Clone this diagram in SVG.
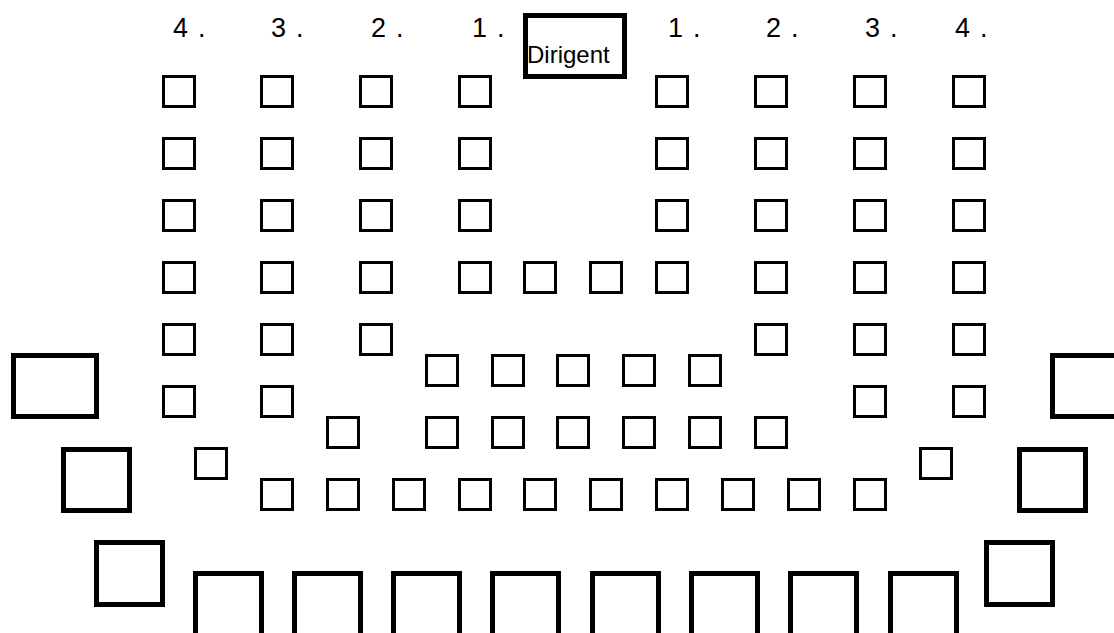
<svg xmlns="http://www.w3.org/2000/svg" width="1114" height="633" viewBox="0 0 1114 633">
<style>
.s{fill:none;stroke:#000;stroke-width:3}
.b{fill:none;stroke:#000;stroke-width:5}
.u{fill:none;stroke:#000;stroke-width:5;stroke-linecap:butt}
.n{font-family:"Liberation Sans",Arial,sans-serif;font-size:27px;fill:#000;letter-spacing:1.3px}
.d{font-family:"Liberation Sans",Arial,sans-serif;font-size:24px;fill:#000}
</style>
<rect width="1114" height="633" fill="#fff"/>
<g id="labels">
<text class="n" x="173" y="37">4 .</text>
<text class="n" x="271" y="37">3 .</text>
<text class="n" x="371" y="37">2 .</text>
<text class="n" x="472" y="37">1 .</text>
<text class="n" x="668" y="37">1 .</text>
<text class="n" x="766" y="37">2 .</text>
<text class="n" x="865" y="37">3 .</text>
<text class="n" x="955" y="37">4 .</text>
</g>
<g id="dirigent"><rect class="b" x="525.5" y="15.5" width="99" height="61"/><text class="d" x="527" y="63">Dirigent</text></g>
<g id="seats-l4"><rect class="s" x="163.5" y="76.5" width="31" height="30"/><rect class="s" x="163.5" y="138.5" width="31" height="30"/><rect class="s" x="163.5" y="200.5" width="31" height="30"/><rect class="s" x="163.5" y="262.5" width="31" height="30"/><rect class="s" x="163.5" y="324.5" width="31" height="30"/><rect class="s" x="163.5" y="386.5" width="31" height="30"/></g>
<g id="seats-l3"><rect class="s" x="261.5" y="76.5" width="31" height="30"/><rect class="s" x="261.5" y="138.5" width="31" height="30"/><rect class="s" x="261.5" y="200.5" width="31" height="30"/><rect class="s" x="261.5" y="262.5" width="31" height="30"/><rect class="s" x="261.5" y="324.5" width="31" height="30"/><rect class="s" x="261.5" y="386.5" width="31" height="30"/></g>
<g id="seats-l2"><rect class="s" x="360.5" y="76.5" width="31" height="30"/><rect class="s" x="360.5" y="138.5" width="31" height="30"/><rect class="s" x="360.5" y="200.5" width="31" height="30"/><rect class="s" x="360.5" y="262.5" width="31" height="30"/><rect class="s" x="360.5" y="324.5" width="31" height="30"/></g>
<g id="seats-l1"><rect class="s" x="459.5" y="76.5" width="31" height="30"/><rect class="s" x="459.5" y="138.5" width="31" height="30"/><rect class="s" x="459.5" y="200.5" width="31" height="30"/><rect class="s" x="459.5" y="262.5" width="31" height="30"/></g>
<g id="seats-r1"><rect class="s" x="656.5" y="76.5" width="31" height="30"/><rect class="s" x="656.5" y="138.5" width="31" height="30"/><rect class="s" x="656.5" y="200.5" width="31" height="30"/><rect class="s" x="656.5" y="262.5" width="31" height="30"/></g>
<g id="seats-r2"><rect class="s" x="755.5" y="76.5" width="31" height="30"/><rect class="s" x="755.5" y="138.5" width="31" height="30"/><rect class="s" x="755.5" y="200.5" width="31" height="30"/><rect class="s" x="755.5" y="262.5" width="31" height="30"/><rect class="s" x="755.5" y="324.5" width="31" height="30"/></g>
<g id="seats-r3"><rect class="s" x="854.5" y="76.5" width="31" height="30"/><rect class="s" x="854.5" y="138.5" width="31" height="30"/><rect class="s" x="854.5" y="200.5" width="31" height="30"/><rect class="s" x="854.5" y="262.5" width="31" height="30"/><rect class="s" x="854.5" y="324.5" width="31" height="30"/><rect class="s" x="854.5" y="386.5" width="31" height="30"/></g>
<g id="seats-r4"><rect class="s" x="953.5" y="76.5" width="31" height="30"/><rect class="s" x="953.5" y="138.5" width="31" height="30"/><rect class="s" x="953.5" y="200.5" width="31" height="30"/><rect class="s" x="953.5" y="262.5" width="31" height="30"/><rect class="s" x="953.5" y="324.5" width="31" height="30"/><rect class="s" x="953.5" y="386.5" width="31" height="30"/></g>
<g id="seats-mid"><rect class="s" x="524.5" y="262.5" width="31" height="30"/><rect class="s" x="590.5" y="262.5" width="31" height="30"/></g>
<g id="seats-rowA"><rect class="s" x="426.5" y="355.5" width="31" height="30"/><rect class="s" x="492.5" y="355.5" width="31" height="30"/><rect class="s" x="557.5" y="355.5" width="31" height="30"/><rect class="s" x="623.5" y="355.5" width="31" height="30"/><rect class="s" x="689.5" y="355.5" width="31" height="30"/></g>
<g id="seats-rowB"><rect class="s" x="327.5" y="417.5" width="31" height="30"/><rect class="s" x="426.5" y="417.5" width="31" height="30"/><rect class="s" x="492.5" y="417.5" width="31" height="30"/><rect class="s" x="557.5" y="417.5" width="31" height="30"/><rect class="s" x="623.5" y="417.5" width="31" height="30"/><rect class="s" x="689.5" y="417.5" width="31" height="30"/><rect class="s" x="755.5" y="417.5" width="31" height="30"/></g>
<g id="seats-rowC"><rect class="s" x="261.5" y="479.5" width="31" height="30"/><rect class="s" x="327.5" y="479.5" width="31" height="30"/><rect class="s" x="393.5" y="479.5" width="31" height="30"/><rect class="s" x="459.5" y="479.5" width="31" height="30"/><rect class="s" x="524.5" y="479.5" width="31" height="30"/><rect class="s" x="590.5" y="479.5" width="31" height="30"/><rect class="s" x="656.5" y="479.5" width="31" height="30"/><rect class="s" x="722.5" y="479.5" width="31" height="30"/><rect class="s" x="788.5" y="479.5" width="31" height="30"/><rect class="s" x="854.5" y="479.5" width="31" height="30"/></g>
<g id="seat-lone-left"><rect class="s" x="195.5" y="448.5" width="31" height="30"/></g>
<g id="seat-lone-right"><rect class="s" x="920.5" y="448.5" width="31" height="30"/></g>
<g id="big-l1"><rect class="b" x="13.5" y="355.5" width="83" height="61"/></g>
<g id="big-l2"><rect class="b" x="63.5" y="449.5" width="66" height="61"/></g>
<g id="big-l3"><rect class="b" x="96.5" y="542.5" width="66" height="62"/></g>
<g id="big-r1"><rect class="b" x="1052.5" y="355.5" width="83" height="61"/></g>
<g id="big-r2"><rect class="b" x="1019.5" y="449.5" width="66" height="61"/></g>
<g id="big-r3"><rect class="b" x="986.5" y="542.5" width="66" height="62"/></g>
<g id="front-row">
<path class="u" d="M195.5 640V573.5H261.5V640"/>
<path class="u" d="M294.5 640V573.5H360.5V640"/>
<path class="u" d="M393.5 640V573.5H459.5V640"/>
<path class="u" d="M492.5 640V573.5H558.5V640"/>
<path class="u" d="M592.5 640V573.5H658.5V640"/>
<path class="u" d="M691.5 640V573.5H757.5V640"/>
<path class="u" d="M790.5 640V573.5H856.5V640"/>
<path class="u" d="M890.5 640V573.5H956.5V640"/>
</g>
<g id="connectors"/>
</svg>
